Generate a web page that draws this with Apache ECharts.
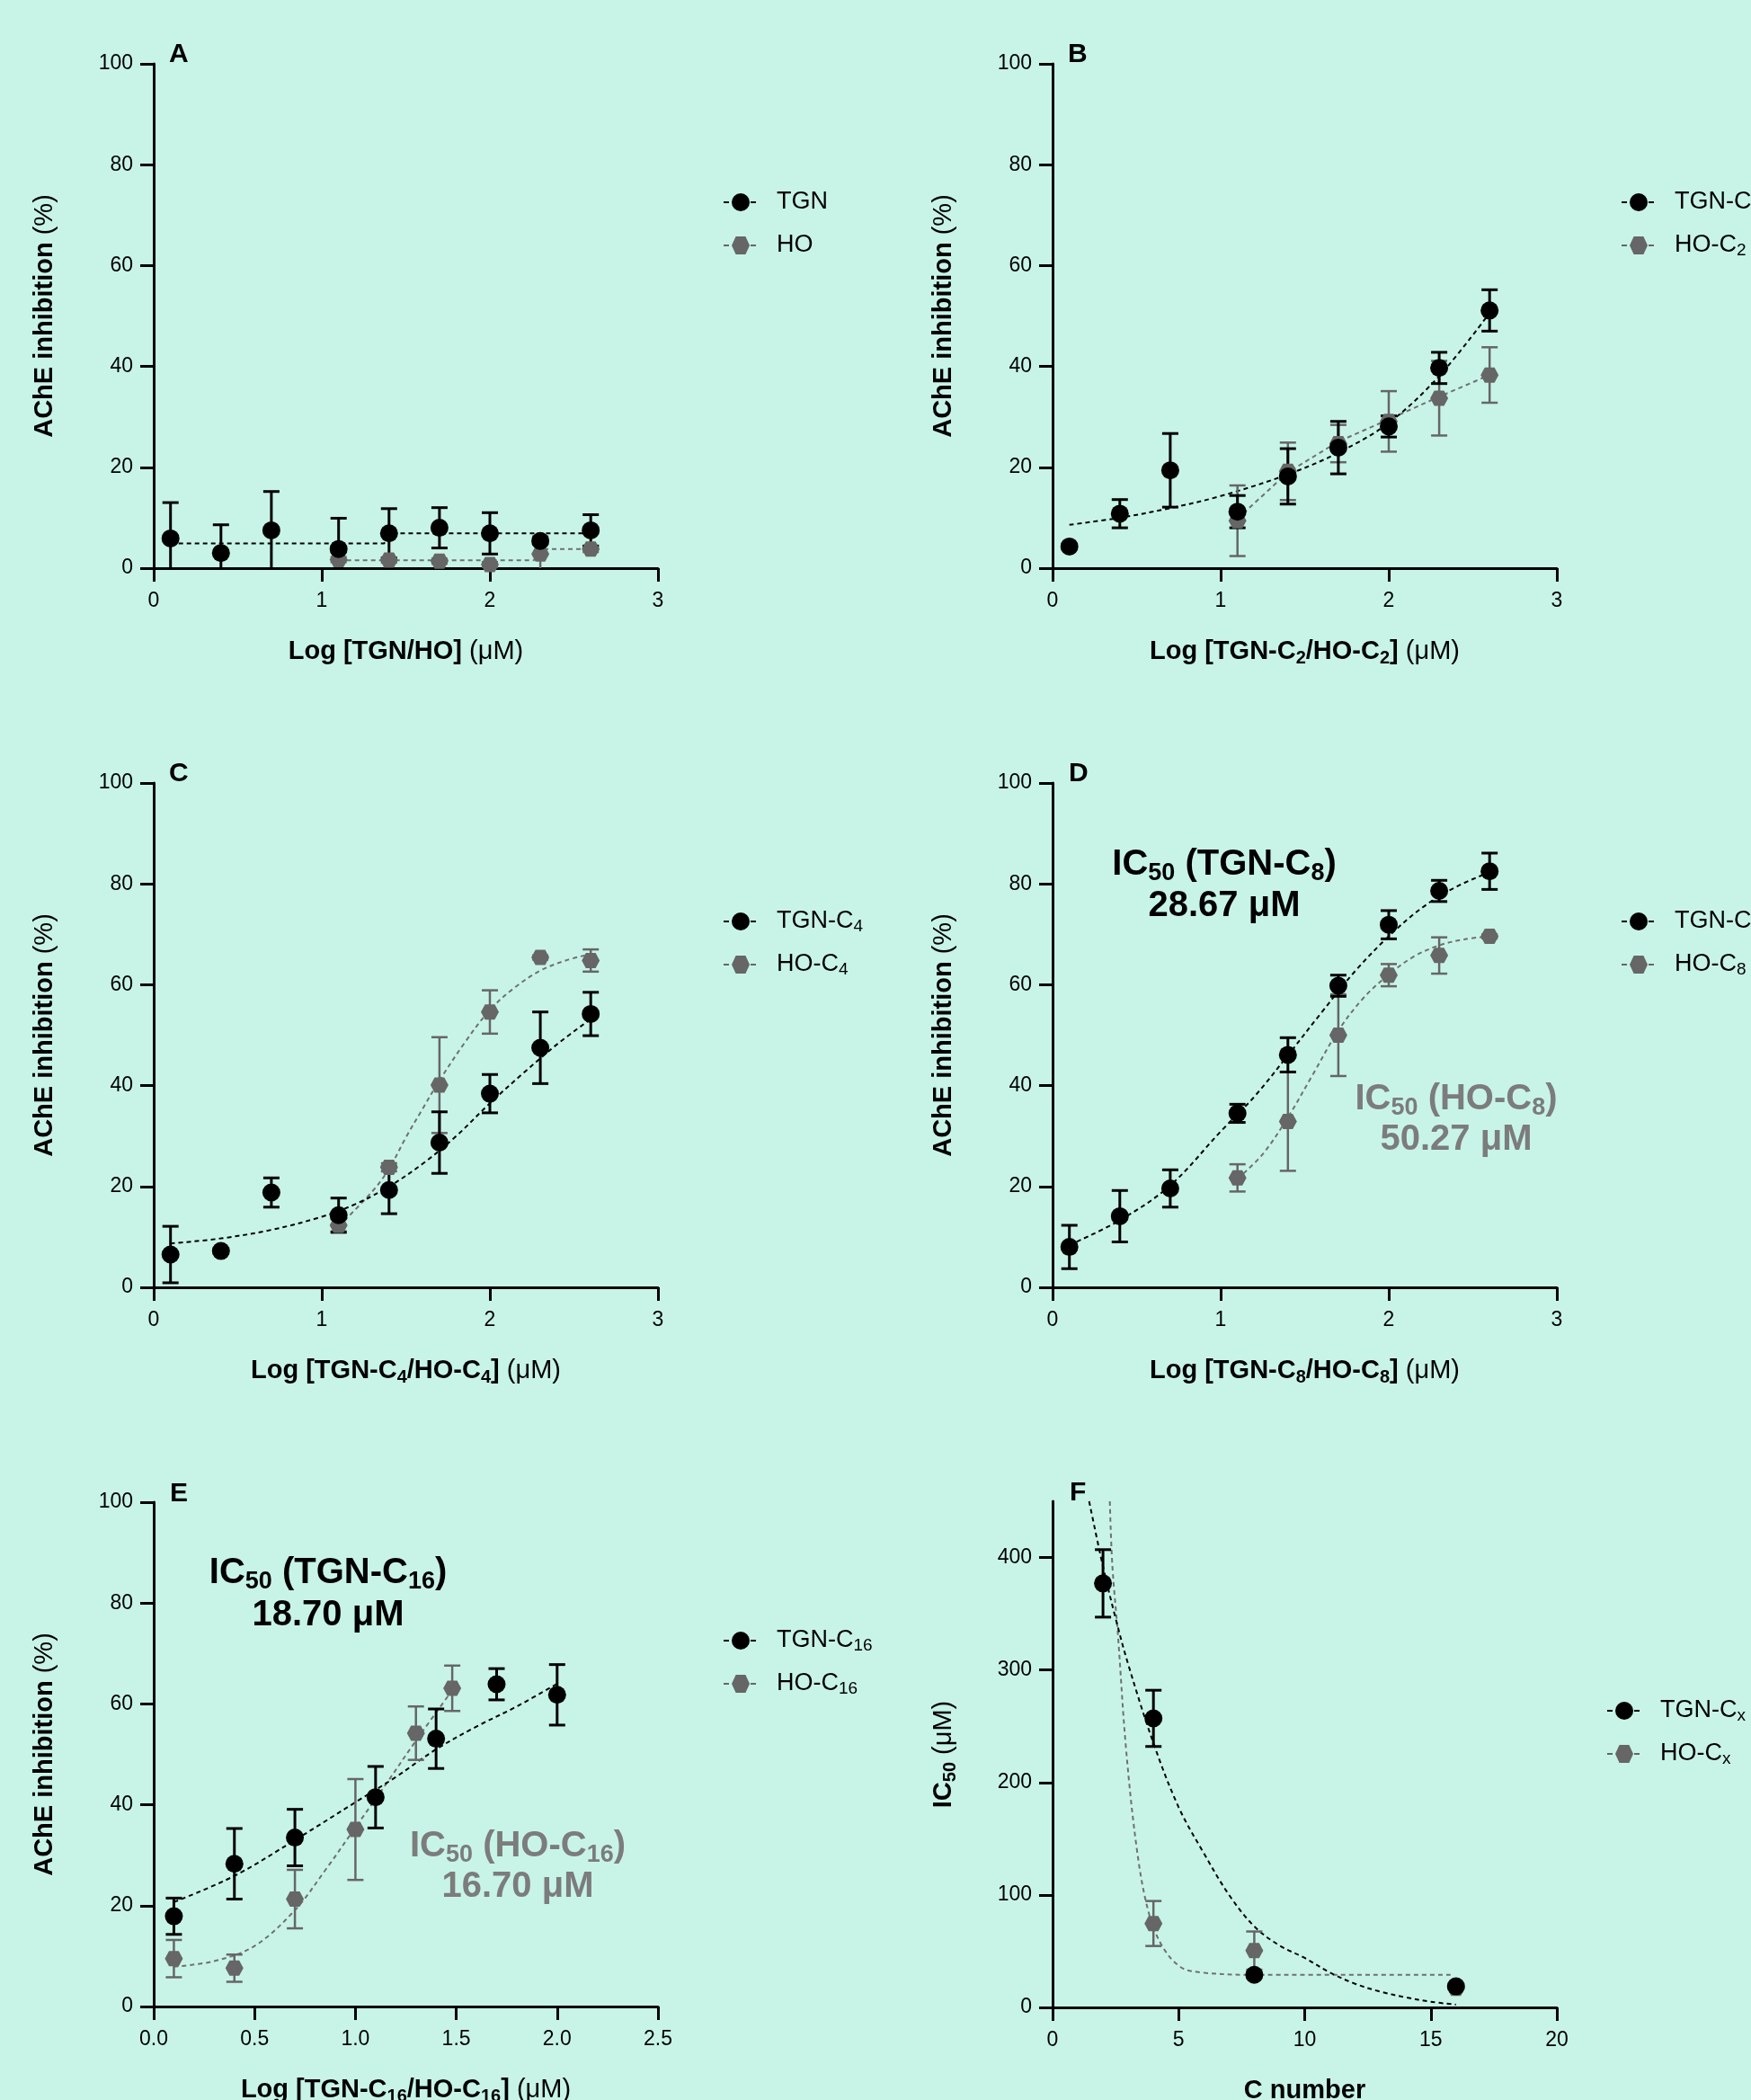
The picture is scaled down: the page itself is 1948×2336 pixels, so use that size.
<!DOCTYPE html>
<html>
<head>
<meta charset="utf-8">
<title>AChE inhibition</title>
<script src="https://cdn.jsdelivr.net/npm/echarts@6/dist/echarts.min.js"></script>
<style>
  html, body { margin: 0; padding: 0; background: #c8f4e8; }
  #main { width: 1948px; height: 2336px; }
</style>
</head>
<body>
<div id="main"></div>
<script>
var FONT = 'Liberation Sans';
var BLACK = '#000000';
var GREY = '#666666';
var GREY_LINE = '#707070';
var GREY_TEXT = '#7c7c7c';
var HEX = 'path://M0,40 L23,0 L77,0 L100,40 L77,80 L23,80 Z';

// log concentrations (log uM)
var logConc = [0.1, 0.4, 0.7, 1.1, 1.4, 1.7, 2.0, 2.3, 2.6];
var logConcHO = [1.1, 1.4, 1.7, 2.0, 2.3, 2.6];
var logConcE_TGN = [0.1, 0.4, 0.7, 1.1, 1.4, 1.7, 2.0];
var logConcE_HO = [0.1, 0.4, 0.7, 1.0, 1.3, 1.48];
var cNumTGN = [2, 4, 8, 16];
var cNumHO = [4, 8, 16];

// A : TGN / HO
var tgnA = [5.9, 3.0, 7.5, 3.8, 6.9, 8.0, 6.9, 5.4, 7.5];
var tgnA_sd = [7.1, 5.6, 7.7, 6.1, 4.9, 4.0, 4.1, 0.6, 3.1];
var hoA = [1.7, 1.6, 1.4, 0.7, 2.8, 3.8];
var hoA_sd = [0.5, 0.5, 0.5, 0.5, 3.5, 0.6];
var fitA_tgn = [[0.1, 4.9], [1.37, 4.9], [1.42, 6.9], [2.6, 6.9]];
var fitA_ho = [[1.1, 1.55], [2.26, 1.55], [2.32, 3.8], [2.6, 3.8]];

// B : C2
var tgnB = [4.3, 10.8, 19.4, 11.2, 18.2, 23.9, 28.1, 39.7, 51.1];
var tgnB_sd = [0.4, 2.8, 7.3, 3.2, 5.5, 5.2, 2.1, 3.1, 4.1];
var hoB = [9.4, 19.2, 24.7, 29.1, 33.7, 38.3];
var hoB_sd = [7.0, 5.7, 3.7, 6.0, 7.4, 5.5];
var fitB_tgn = [[0.1, 8.6], [0.4, 10.0], [0.7, 11.9], [1.0, 14.3], [1.4, 18.6], [1.7, 22.9], [2.0, 28.8], [2.3, 38.1], [2.6, 50.6]];
var fitB_ho = [[1.1, 9.8], [1.4, 19.0], [1.7, 25.1], [2.0, 29.5], [2.3, 34.0], [2.6, 38.3]];

// C : C4
var tgnC = [6.5, 7.2, 18.8, 14.3, 19.3, 28.7, 38.4, 47.5, 54.2];
var tgnC_sd = [5.6, 0.5, 2.9, 3.4, 4.7, 6.1, 3.8, 7.1, 4.3];
var hoC = [12.3, 23.8, 40.1, 54.6, 65.4, 64.8];
var hoC_sd = [1.2, 0.8, 9.5, 4.3, 0.4, 2.2];
var fitC_tgn = [[0.1, 8.7], [0.4, 9.7], [0.7, 11.4], [1.0, 14.0], [1.2, 16.5], [1.4, 20.0], [1.6, 24.5], [1.8, 30.0], [2.0, 36.5], [2.2, 42.5], [2.4, 48.2], [2.6, 53.2]];
var fitC_ho = [[1.1, 12.1], [1.3, 19.0], [1.4, 23.5], [1.5, 29.7], [1.6, 35.4], [1.7, 41.0], [1.85, 48.5], [2.0, 55.0], [2.15, 59.5], [2.3, 62.8], [2.45, 64.8], [2.6, 66.1]];

// D : C8
var tgnD = [8.0, 14.1, 19.6, 34.5, 46.1, 59.8, 71.9, 78.6, 82.5];
var tgnD_sd = [4.3, 5.1, 3.7, 1.8, 3.4, 2.1, 2.8, 2.1, 3.6];
var hoD = [21.7, 32.9, 50.0, 61.9, 65.8, 69.6];
var hoD_sd = [2.7, 9.8, 8.1, 2.2, 3.6, 0.4];
var fitD_tgn = [[0.1, 8.4], [0.4, 13.3], [0.7, 20.2], [1.0, 30.9], [1.2, 37.8], [1.4, 46.0], [1.6, 54.5], [1.8, 62.7], [2.0, 69.6], [2.2, 75.3], [2.4, 79.4], [2.6, 82.3]];
var fitD_ho = [[1.1, 21.5], [1.25, 26.4], [1.4, 33.7], [1.55, 42.3], [1.7, 50.9], [1.85, 57.4], [2.0, 62.0], [2.15, 65.6], [2.3, 67.8], [2.45, 69.0], [2.6, 69.6]];

// E : C16
var tgnE = [17.9, 28.3, 33.5, 41.5, 53.1, 63.9, 61.8];
var tgnE_sd = [3.6, 7.0, 5.6, 6.1, 5.9, 3.1, 6.0];
var hoE = [9.5, 7.6, 21.3, 35.1, 54.2, 63.1];
var hoE_sd = [3.7, 2.7, 5.8, 10.0, 5.3, 4.5];
var fitE_tgn = [[0.1, 20.7], [0.4, 25.9], [0.7, 33.0], [1.0, 40.5], [1.2, 45.5], [1.4, 51.0], [1.6, 55.5], [1.8, 59.5], [2.0, 64.0]];
var fitE_ho = [[0.1, 7.9], [0.3, 9.0], [0.5, 12.0], [0.7, 19.1], [0.85, 27.0], [1.0, 35.5], [1.15, 44.0], [1.3, 52.7], [1.48, 62.7]];

// F : IC50 vs chain length
var ic50TGN = [377, 257, 29, 18.7];
var ic50TGN_sd = [30, 25, 1, 1];
var ic50HO = [74.6, 50.5, 17];
var ic50HO_sd = [20, 17, 1];
var fitF_tgn = [[1.45, 450], [2, 392], [2.5, 346], [3, 305], [4, 235], [5, 178], [6, 137], [7, 100], [8, 72], [9, 55], [10, 44], [11, 31], [12, 21], [13, 14], [14, 9], [15, 5], [16, 2.5]];
var fitF_ho = [[2.27, 450], [2.37, 393], [2.59, 332], [2.91, 231], [3.34, 141], [3.78, 87], [4.31, 56], [5.07, 36], [5.93, 31], [7.9, 29], [15.9, 29]];
var ticksF = [0, 100, 200, 300, 400];

var chart = echarts.init(document.getElementById('main'));

function nameRich() {
  return {
    b: { fontFamily: FONT, fontSize: 29, fontWeight: 'bold', color: '#000', lineHeight: 34 },
    bs: { fontFamily: FONT, fontSize: 20, fontWeight: 'bold', color: '#000', lineHeight: 16, verticalAlign: 'bottom' },
    n: { fontFamily: FONT, fontSize: 29, fontWeight: 'normal', color: '#000', lineHeight: 34 }
  };
}

function pts(xs, ys) {
  return xs.map(function (x, i) { return [x, ys[i]]; });
}
function bars(xs, ys, sd) {
  return xs.map(function (x, i) { return [x, ys[i] - sd[i], ys[i] + sd[i]]; });
}

function errBar(color, lw) {
  return function (params, api) {
    var x = api.value(0);
    var top = api.coord([x, api.value(2)]);
    var bot = api.coord([x, api.value(1)]);
    var w = 9;
    var st = { stroke: color, lineWidth: lw };
    return {
      type: 'group',
      children: [
        { type: 'line', shape: { x1: top[0], y1: top[1], x2: bot[0], y2: bot[1] }, style: st },
        { type: 'line', shape: { x1: top[0] - w, y1: top[1], x2: top[0] + w, y2: top[1] }, style: st },
        { type: 'line', shape: { x1: bot[0] - w, y1: bot[1], x2: bot[0] + w, y2: bot[1] }, style: st }
      ]
    };
  };
}

var option = {
  backgroundColor: '#c8f4e8',
  animation: false,
  grid: [], xAxis: [], yAxis: [], legend: [], series: [], graphic: []
};

function addPanel(p) {
  var gi = option.grid.length;
  option.grid.push({ left: p.left, top: p.top, width: 561, height: p.height, containLabel: false, outerBoundsMode: 'none' });

  option.xAxis.push({
    type: 'value', gridIndex: gi, min: p.xMin, max: p.xMax, interval: p.xStep,
    name: p.xName, nameLocation: 'middle', nameGap: 76, nameMoveOverlap: false,
    nameTextStyle: { rich: nameRich() },
    axisLine: { onZero: false, lineStyle: { color: '#000', width: 3 } },
    axisTick: { length: 15, lineStyle: { color: '#000', width: 3 } },
    axisLabel: { margin: 25, color: '#000', fontFamily: FONT, fontSize: 23, formatter: p.xFmt },
    splitLine: { show: false }
  });

  var yTick = { length: 15, lineStyle: { color: '#000', width: 3 } };
  var yLab = { margin: 23, color: '#000', fontFamily: FONT, fontSize: 23 };
  if (p.yTicks) {
    yTick.customValues = p.yTicks;
    yLab.customValues = p.yTicks;
  }
  option.yAxis.push({
    type: 'value', gridIndex: gi, min: 0, max: p.yMax, interval: p.yStep,
    name: p.yName, nameLocation: 'middle', nameGap: 104, nameMoveOverlap: false,
    nameTextStyle: { rich: nameRich() },
    axisLine: { onZero: false, lineStyle: { color: '#000', width: 3 } },
    axisTick: yTick,
    axisLabel: yLab,
    splitLine: { show: false }
  });

  // fitted curves
  option.series.push({
    type: 'line', xAxisIndex: gi, yAxisIndex: gi, data: p.fitHO, symbol: 'none', showSymbol: false,
    smooth: p.smoothHO ? 0.35 : false, silent: true, z: 2,
    lineStyle: { color: GREY_LINE, width: 2, type: [5, 4] }
  });
  option.series.push({
    type: 'line', xAxisIndex: gi, yAxisIndex: gi, data: p.fitTGN, symbol: 'none', showSymbol: false,
    smooth: p.smoothTGN ? 0.35 : false, silent: true, z: 2,
    lineStyle: { color: BLACK, width: 2, type: [5, 4] }
  });

  // error bars
  option.series.push({
    type: 'custom', xAxisIndex: gi, yAxisIndex: gi, data: p.barsHO, encode: { x: 0, y: [1, 2] },
    clip: true, silent: true, z: 3, renderItem: errBar(GREY, 2.5)
  });
  option.series.push({
    type: 'custom', xAxisIndex: gi, yAxisIndex: gi, data: p.barsTGN, encode: { x: 0, y: [1, 2] },
    clip: true, silent: true, z: 3, renderItem: errBar(BLACK, 3)
  });

  // means
  option.series.push({
    type: 'line', name: p.hoName, xAxisIndex: gi, yAxisIndex: gi, data: p.ptsHO,
    symbol: HEX, symbolSize: [20, 17], showSymbol: true, silent: true, z: 4,
    itemStyle: { color: GREY, borderWidth: 0 },
    lineStyle: { color: GREY, width: 2, opacity: 0 }
  });
  option.series.push({
    type: 'line', name: p.tgnName, xAxisIndex: gi, yAxisIndex: gi, data: p.ptsTGN,
    symbol: 'circle', symbolSize: 20, showSymbol: true, silent: true, z: 5,
    itemStyle: { color: BLACK, borderWidth: 0 },
    lineStyle: { color: BLACK, width: 2, opacity: 0 }
  });

  option.legend.push({
    left: p.legLeft, top: p.legTop, orient: 'vertical', padding: 0,
    itemWidth: 38, itemHeight: 25, itemGap: 18, selectedMode: false,
    data: [p.tgnName, p.hoName],
    lineStyle: { opacity: 1, width: 2, type: [6, 4] },
    formatter: function (name) {
      return name.replace(/C(\d+|x)$/, 'C{sub|$1}');
    },
    textStyle: {
      color: '#000', fontFamily: FONT, fontSize: 27, lineHeight: 30, padding: [0, 0, 0, 16],
      rich: { sub: { color: '#000', fontFamily: FONT, fontSize: 19, lineHeight: 14, verticalAlign: 'bottom' } }
    }
  });

  option.graphic.push({
    type: 'text', x: p.letterX, y: p.letterY, silent: true,
    style: { text: p.letter, fill: '#000', font: 'bold 30px "Liberation Sans"', align: 'left', verticalAlign: 'middle' }
  });
}

function annRich(color) {
  return {
    a: { fill: color, color: color, fontFamily: FONT, fontSize: 40, fontWeight: 'bold', lineHeight: 46 },
    s: { fill: color, color: color, fontFamily: FONT, fontSize: 27, fontWeight: 'bold', lineHeight: 22, verticalAlign: 'bottom' }
  };
}
function annot(x, y, text, color) {
  return {
    type: 'text', x: x, y: y, silent: true, z: 10,
    style: { text: text, fill: color, font: 'bold 40px "Liberation Sans"', align: 'center', verticalAlign: 'middle', rich: annRich(color) }
  };
}

var yPct = '{b|AChE inhibition}{n| (%)}';

addPanel({
  left: 171, top: 71, height: 561, xMin: 0, xMax: 3, xStep: 1, yMax: 100, yStep: 20,
  xName: '{b|Log [TGN/HO]}{n| (μM)}', yName: yPct,
  tgnName: 'TGN', hoName: 'HO', legLeft: 804, legTop: 210, letter: 'A', letterX: 188, letterY: 61,
  ptsTGN: pts(logConc, tgnA), ptsHO: pts(logConcHO, hoA),
  barsTGN: bars(logConc, tgnA, tgnA_sd), barsHO: bars(logConcHO, hoA, hoA_sd),
  fitTGN: fitA_tgn, fitHO: fitA_ho, smoothTGN: false, smoothHO: false
});
addPanel({
  left: 1171, top: 71, height: 561, xMin: 0, xMax: 3, xStep: 1, yMax: 100, yStep: 20,
  xName: '{b|Log [TGN-C}{bs|2}{b|/HO-C}{bs|2}{b|]}{n| (μM)}', yName: yPct,
  tgnName: 'TGN-C2', hoName: 'HO-C2', legLeft: 1803, legTop: 210, letter: 'B', letterX: 1188, letterY: 61,
  ptsTGN: pts(logConc, tgnB), ptsHO: pts(logConcHO, hoB),
  barsTGN: bars(logConc, tgnB, tgnB_sd), barsHO: bars(logConcHO, hoB, hoB_sd),
  fitTGN: fitB_tgn, fitHO: fitB_ho, smoothTGN: true, smoothHO: false
});
addPanel({
  left: 171, top: 871, height: 561, xMin: 0, xMax: 3, xStep: 1, yMax: 100, yStep: 20,
  xName: '{b|Log [TGN-C}{bs|4}{b|/HO-C}{bs|4}{b|]}{n| (μM)}', yName: yPct,
  tgnName: 'TGN-C4', hoName: 'HO-C4', legLeft: 804, legTop: 1010, letter: 'C', letterX: 188, letterY: 861,
  ptsTGN: pts(logConc, tgnC), ptsHO: pts(logConcHO, hoC),
  barsTGN: bars(logConc, tgnC, tgnC_sd), barsHO: bars(logConcHO, hoC, hoC_sd),
  fitTGN: fitC_tgn, fitHO: fitC_ho, smoothTGN: true, smoothHO: true
});
addPanel({
  left: 1171, top: 871, height: 561, xMin: 0, xMax: 3, xStep: 1, yMax: 100, yStep: 20,
  xName: '{b|Log [TGN-C}{bs|8}{b|/HO-C}{bs|8}{b|]}{n| (μM)}', yName: yPct,
  tgnName: 'TGN-C8', hoName: 'HO-C8', legLeft: 1803, legTop: 1010, letter: 'D', letterX: 1189, letterY: 861,
  ptsTGN: pts(logConc, tgnD), ptsHO: pts(logConcHO, hoD),
  barsTGN: bars(logConc, tgnD, tgnD_sd), barsHO: bars(logConcHO, hoD, hoD_sd),
  fitTGN: fitD_tgn, fitHO: fitD_ho, smoothTGN: true, smoothHO: true
});
addPanel({
  left: 171, top: 1671, height: 561, xMin: 0, xMax: 2.5, xStep: 0.5, yMax: 100, yStep: 20,
  xFmt: function (v) { return v.toFixed(1); },
  xName: '{b|Log [TGN-C}{bs|16}{b|/HO-C}{bs|16}{b|]}{n| (μM)}', yName: yPct,
  tgnName: 'TGN-C16', hoName: 'HO-C16', legLeft: 804, legTop: 1810, letter: 'E', letterX: 189, letterY: 1662,
  ptsTGN: pts(logConcE_TGN, tgnE), ptsHO: pts(logConcE_HO, hoE),
  barsTGN: bars(logConcE_TGN, tgnE, tgnE_sd), barsHO: bars(logConcE_HO, hoE, hoE_sd),
  fitTGN: fitE_tgn, fitHO: fitE_ho, smoothTGN: true, smoothHO: true
});
addPanel({
  left: 1171, top: 1670, height: 563, xMin: 0, xMax: 20, xStep: 5, yMax: 450, yStep: 50,
  yTicks: ticksF,
  xName: '{b|C number}', yName: '{b|IC}{bs|50}{n| (μM)}',
  tgnName: 'TGN-Cx', hoName: 'HO-Cx', legLeft: 1787, legTop: 1888, letter: 'F', letterX: 1190, letterY: 1661,
  ptsTGN: pts(cNumTGN, ic50TGN), ptsHO: pts(cNumHO, ic50HO),
  barsTGN: bars(cNumTGN, ic50TGN, ic50TGN_sd), barsHO: bars(cNumHO, ic50HO, ic50HO_sd),
  fitTGN: fitF_tgn, fitHO: fitF_ho, smoothTGN: true, smoothHO: true
});

// IC50 annotations
option.graphic.push(annot(1362, 962, '{a|IC}{s|50}{a| (TGN-C}{s|8}{a|)}', BLACK));
option.graphic.push(annot(1362, 1008, '{a|28.67 μM}', BLACK));
option.graphic.push(annot(1620, 1223, '{a|IC}{s|50}{a| (HO-C}{s|8}{a|)}', GREY_TEXT));
option.graphic.push(annot(1620, 1268, '{a|50.27 μM}', GREY_TEXT));
option.graphic.push(annot(365, 1750, '{a|IC}{s|50}{a| (TGN-C}{s|16}{a|)}', BLACK));
option.graphic.push(annot(365, 1797, '{a|18.70 μM}', BLACK));
option.graphic.push(annot(576, 2054, '{a|IC}{s|50}{a| (HO-C}{s|16}{a|)}', GREY_TEXT));
option.graphic.push(annot(576, 2099, '{a|16.70 μM}', GREY_TEXT));

chart.setOption(option);
window.addEventListener('resize', function () { chart.resize(); });
</script>
</body>
</html>
